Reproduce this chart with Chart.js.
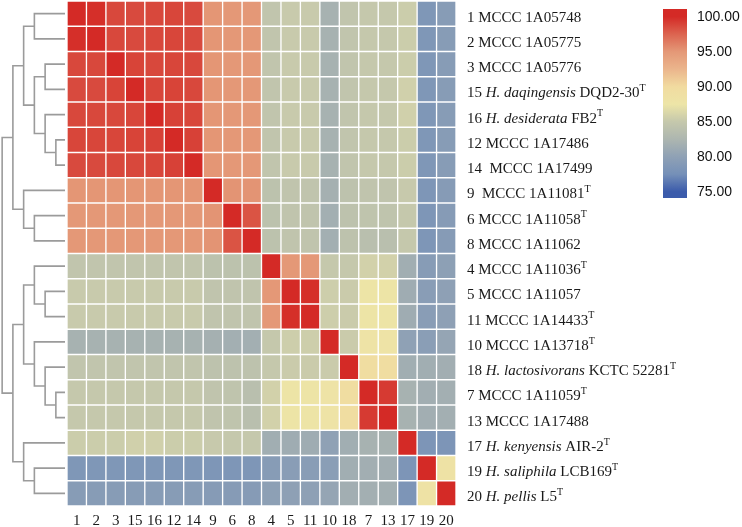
<!DOCTYPE html>
<html>
<head>
<meta charset="utf-8">
<script src="https://cdn.jsdelivr.net/npm/chart.js@4"></script>
<style>
  html, body { margin: 0; padding: 0; background: #fff; }
  #wrap { position: relative; width: 742px; height: 527px; overflow: hidden; }
  canvas { position: absolute; top: 0; }
  #tree { left: 0; }
  #heat { left: 67px; }
  #bar { left: 655px; }
</style>
</head>
<body>
<div id="wrap">
  <canvas id="tree" width="67" height="527"></canvas>
  <canvas id="heat" width="675" height="527"></canvas>
  <canvas id="bar" width="87" height="215"></canvas>
</div>
<script>
// strain order used for both rows and columns
const strainIds = ["1", "2", "3", "15", "16", "12", "14", "9", "6", "8", "4", "5", "11", "10", "18", "7", "13", "17", "19", "20"];

// *...* = italic, ^T = superscript type-strain mark
const strainNames = [
  "1 MCCC 1A05748",
  "2 MCCC 1A05775",
  "3 MCCC 1A05776",
  "15 *H. daqingensis* DQD2-30^T",
  "16 *H. desiderata* FB2^T",
  "12 MCCC 1A17486",
  "14  MCCC 1A17499",
  "9  MCCC 1A11081^T",
  "6 MCCC 1A11058^T",
  "8 MCCC 1A11062",
  "4 MCCC 1A11036^T",
  "5 MCCC 1A11057",
  "11 MCCC 1A14433^T",
  "10 MCCC 1A13718^T",
  "18 *H. lactosivorans* KCTC 52281^T",
  "7 MCCC 1A11059^T",
  "13 MCCC 1A17488",
  "17 *H. kenyensis* AIR-2^T",
  "19 *H. saliphila* LCB169^T",
  "20 *H. pellis* L5^T"
];

// pairwise identity (%), rows and columns in strainIds order
const identity = [
  [100, 99.8, 98.7, 98.6, 98.7, 98.8, 98.6, 95.1, 95.0, 95.0, 84.6, 85.2, 85.2, 82.0, 84.6, 85.0, 85.0, 85.4, 78.5, 79.2],
  [99.8, 100, 98.7, 98.6, 98.7, 98.8, 98.6, 95.1, 95.0, 95.0, 84.6, 85.2, 85.2, 82.0, 84.6, 85.0, 85.0, 85.4, 78.5, 79.2],
  [98.7, 98.7, 100, 98.9, 98.7, 98.8, 98.7, 95.1, 95.0, 95.0, 84.6, 85.2, 85.2, 82.0, 84.6, 85.0, 85.0, 85.4, 78.5, 79.2],
  [98.6, 98.6, 98.9, 100, 98.8, 98.9, 98.7, 95.1, 95.0, 95.0, 84.6, 85.2, 85.2, 82.0, 84.6, 85.0, 85.0, 85.7, 78.5, 79.2],
  [98.7, 98.7, 98.7, 98.8, 100, 99.0, 98.8, 95.1, 95.0, 95.0, 84.6, 85.2, 85.2, 82.0, 84.6, 85.0, 85.0, 85.7, 78.5, 79.2],
  [98.8, 98.8, 98.8, 98.9, 99.0, 100, 99.0, 95.1, 95.0, 95.0, 84.6, 85.2, 85.2, 82.0, 84.6, 85.0, 85.0, 85.4, 78.5, 79.2],
  [98.6, 98.6, 98.7, 98.7, 98.8, 99.0, 100, 95.1, 95.0, 95.0, 84.6, 85.2, 85.2, 82.0, 84.6, 85.0, 85.0, 85.4, 78.5, 79.2],
  [95.1, 95.1, 95.1, 95.1, 95.1, 95.1, 95.1, 100, 95.2, 95.2, 84.1, 84.5, 84.5, 81.8, 84.2, 84.5, 84.5, 85.1, 78.4, 79.1],
  [95.0, 95.0, 95.0, 95.0, 95.0, 95.0, 95.0, 95.2, 100, 98.2, 84.1, 84.5, 84.5, 81.7, 84.2, 84.4, 84.4, 85.0, 78.4, 79.1],
  [95.0, 95.0, 95.0, 95.0, 95.0, 95.0, 95.0, 95.2, 98.2, 100, 84.1, 84.5, 84.5, 81.7, 84.2, 83.8, 83.8, 85.0, 78.4, 79.1],
  [84.6, 84.6, 84.6, 84.6, 84.6, 84.6, 84.6, 84.1, 84.1, 84.1, 100, 95.0, 95.0, 85.0, 85.0, 85.8, 85.8, 81.5, 79.2, 79.8],
  [85.2, 85.2, 85.2, 85.2, 85.2, 85.2, 85.2, 84.5, 84.5, 84.5, 95.0, 100, 99.8, 85.5, 85.3, 87.8, 87.8, 81.3, 79.4, 79.9],
  [85.2, 85.2, 85.2, 85.2, 85.2, 85.2, 85.2, 84.5, 84.5, 84.5, 95.0, 99.8, 100, 85.5, 85.3, 87.8, 87.8, 81.3, 79.4, 79.9],
  [82.0, 82.0, 82.0, 82.0, 82.0, 82.0, 82.0, 81.8, 81.7, 81.7, 85.0, 85.5, 85.5, 100, 85.3, 88.0, 88.0, 80.0, 79.5, 80.5],
  [84.6, 84.6, 84.6, 84.6, 84.6, 84.6, 84.6, 84.2, 84.2, 84.2, 85.0, 85.3, 85.3, 85.3, 100, 89.5, 89.5, 81.5, 81.5, 81.6],
  [85.0, 85.0, 85.0, 85.0, 85.0, 85.0, 85.0, 84.5, 84.4, 83.8, 85.8, 87.8, 87.8, 88.0, 89.5, 100, 99.3, 82.0, 81.6, 81.7],
  [85.0, 85.0, 85.0, 85.0, 85.0, 85.0, 85.0, 84.5, 84.4, 83.8, 85.8, 87.8, 87.8, 88.0, 89.5, 99.3, 100, 82.0, 81.6, 81.7],
  [85.4, 85.4, 85.4, 85.7, 85.7, 85.4, 85.4, 85.1, 85.0, 85.0, 81.5, 81.3, 81.3, 80.0, 81.5, 82.0, 82.0, 100, 78.3, 78.3],
  [78.5, 78.5, 78.5, 78.5, 78.5, 78.5, 78.5, 78.4, 78.4, 78.4, 79.2, 79.4, 79.4, 79.5, 81.5, 81.6, 81.6, 78.3, 100, 88.3],
  [79.2, 79.2, 79.2, 79.2, 79.2, 79.2, 79.2, 79.1, 79.1, 79.1, 79.8, 79.9, 79.9, 80.5, 81.6, 81.7, 81.7, 78.3, 88.3, 100]
];

// clustering: [childA, childB, height]; leaves 0..19 in row order, new nodes get 20, 21, ...
const treeMerges = [
  [0, 1, 2.85],
  [2, 3, 1.85],
  [5, 6, 0.85],
  [4, 22, 1.85],
  [21, 23, 2.85],
  [20, 24, 3.85],
  [8, 9, 2.85],
  [7, 26, 3.85],
  [25, 27, 4.85],
  [11, 12, 1.85],
  [10, 29, 2.85],
  [15, 16, 0.85],
  [14, 31, 1.85],
  [13, 32, 2.85],
  [30, 33, 3.85],
  [18, 19, 2.85],
  [17, 35, 3.85],
  [34, 36, 4.85],
  [28, 37, 5.85]
];

// colour key
const legendStops = [75, 77.5, 80, 82.5, 85, 87.5, 90, 92.5, 95, 97.5, 100];
const legendColors = ["#3b5bab", "#7590b8", "#8fa1b5", "#adb6b0", "#c5c8ac", "#ede5a7", "#f1dba0", "#ebb58c", "#e49877", "#dc6450", "#d42a26"];
const legendTicks = [75, 80, 85, 90, 95, 100];
const legendRange = [74.1, 101.1];

const serif = '"Liberation Serif", "Times New Roman", serif';
const sans = '"Liberation Sans", Arial, sans-serif';

function hexRgb(h) {
  const n = parseInt(h.slice(1), 16);
  return [n >> 16, (n >> 8) & 255, n & 255];
}

function cellColor(v) {
  let i = 1;
  while (i < legendStops.length - 1 && v > legendStops[i]) i++;
  const t = Math.min(1, Math.max(0, (v - legendStops[i - 1]) / (legendStops[i] - legendStops[i - 1])));
  const a = hexRgb(legendColors[i - 1]), b = hexRgb(legendColors[i]);
  return "rgb(" + a.map((c, k) => Math.round(c + (b[k] - c) * t)).join(",") + ")";
}

// axis label padding would otherwise eat into the plot area
function noEdgePadding(ax) {
  ax.paddingTop = 0;
  ax.paddingBottom = 0;
  ax.paddingLeft = 0;
  ax.paddingRight = 0;
}

// ---- dendrogram ----
const treeNodes = strainIds.map((_, i) => ({ y: i, h: 0 }));
treeMerges.forEach(([a, b, h]) => {
  treeNodes.push({ y: (treeNodes[a].y + treeNodes[b].y) / 2, h: h });
});

new Chart(document.getElementById("tree"), {
  type: "scatter",
  data: {
    datasets: treeMerges.map(([a, b, h]) => ({
      data: [
        { x: treeNodes[a].h, y: treeNodes[a].y },
        { x: h, y: treeNodes[a].y },
        { x: h, y: treeNodes[b].y },
        { x: treeNodes[b].h, y: treeNodes[b].y }
      ],
      showLine: true,
      borderColor: "#9b9b9b",
      borderWidth: 1.6,
      pointRadius: 0,
      tension: 0,
      clip: false
    }))
  },
  options: {
    responsive: false,
    animation: false,
    layout: { autoPadding: false, padding: { left: 0, right: 2, top: 1, bottom: 21 } },
    plugins: { legend: { display: false }, tooltip: { enabled: false } },
    scales: {
      x: { type: "linear", reverse: true, min: 0, max: 6.05, display: false },
      y: { type: "linear", reverse: true, min: -0.5, max: 19.5, display: false }
    }
  }
});

// ---- heatmap ----
const rowLabelPlugin = {
  id: "rowLabels",
  afterDraw(chart) {
    const { ctx, chartArea, scales } = chart;
    ctx.save();
    ctx.fillStyle = "#1a1a1a";
    ctx.textBaseline = "middle";
    ctx.textAlign = "left";
    strainNames.forEach((name, i) => {
      let x = chartArea.right + 11;
      const y = scales.y.getPixelForValue(i) + 4;
      name.split(/(\*[^*]+\*|\^T)/).filter(Boolean).forEach(part => {
        let text = part, dy = 0;
        if (part.startsWith("*")) {
          text = part.slice(1, -1);
          ctx.font = "italic 15px " + serif;
        } else if (part === "^T") {
          text = "T";
          ctx.font = "10px " + serif;
          dy = -5;
        } else {
          ctx.font = "15px " + serif;
        }
        ctx.fillText(text, x, y + dy);
        x += ctx.measureText(text).width;
      });
    });
    ctx.restore();
  }
};

new Chart(document.getElementById("heat"), {
  type: "bar",
  data: {
    labels: strainNames.map(s => s.replace(/\*/g, "").replace("^T", "T")),
    datasets: strainIds.map((id, c) => ({
      label: id,
      data: strainIds.map(() => 1),
      backgroundColor: identity.map(row => cellColor(row[c])),
      borderColor: "#ffffff",
      borderWidth: 1,
      borderSkipped: false,
      barPercentage: 1,
      categoryPercentage: 1
    }))
  },
  options: {
    indexAxis: "y",
    responsive: false,
    animation: false,
    layout: { padding: { left: 0, right: 675 - 389, top: 1, bottom: 0 } },
    plugins: { legend: { display: false }, tooltip: { enabled: false } },
    scales: {
      x: {
        type: "linear",
        stacked: true,
        min: 0,
        max: strainIds.length,
        grid: { display: false, drawTicks: false },
        border: { display: false },
        afterBuildTicks: ax => { ax.ticks = strainIds.map((_, i) => ({ value: i + 0.5 })); },
        afterFit: ax => { ax.height = 21; noEdgePadding(ax); },
        ticks: {
          autoSkip: false,
          maxRotation: 0,
          padding: 6,
          color: "#1a1a1a",
          font: { family: serif, size: 15 },
          callback: (v, i) => strainIds[i]
        }
      },
      y: { type: "category", stacked: true, display: false }
    }
  },
  plugins: [rowLabelPlugin]
});

// ---- colour bar ----
new Chart(document.getElementById("bar"), {
  type: "bar",
  data: {
    labels: ["identity"],
    datasets: [{
      data: [legendRange],
      backgroundColor: c => {
        const { ctx, chartArea, scales } = c.chart;
        if (!chartArea) return legendColors[0];
        const y = scales.y;
        const lo = legendStops[0], hi = legendStops[legendStops.length - 1];
        const g = ctx.createLinearGradient(0, y.getPixelForValue(lo), 0, y.getPixelForValue(hi));
        legendStops.forEach((v, i) => g.addColorStop((v - lo) / (hi - lo), legendColors[i]));
        return g;
      },
      borderWidth: 0,
      barPercentage: 1,
      categoryPercentage: 1
    }]
  },
  options: {
    responsive: false,
    animation: false,
    layout: { padding: { left: 8, right: 0, top: 9, bottom: 17 } },
    plugins: { legend: { display: false }, tooltip: { enabled: false } },
    scales: {
      x: { display: false },
      y: {
        position: "right",
        min: legendRange[0],
        max: legendRange[1],
        grid: { display: false, drawTicks: false },
        border: { display: false },
        afterBuildTicks: ax => { ax.ticks = legendTicks.map(v => ({ value: v })); },
        afterFit: ax => { ax.width = 55; noEdgePadding(ax); },
        ticks: {
          padding: 10,
          color: "#111111",
          font: { family: sans, size: 14 },
          callback: v => v.toFixed(2)
        }
      }
    }
  }
});
</script>
</body>
</html>
